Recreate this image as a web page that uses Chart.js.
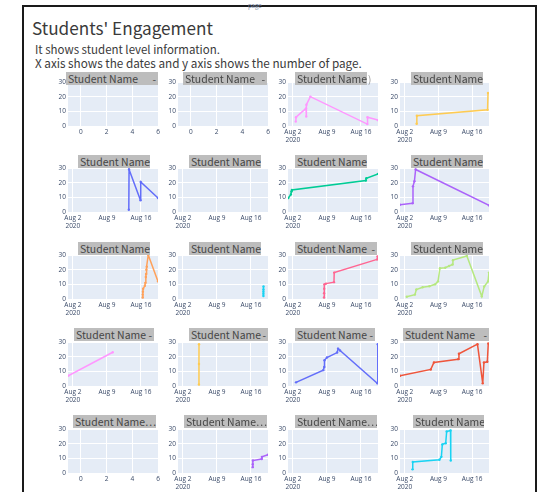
<!DOCTYPE html>
<html><head><meta charset="utf-8">
<script src="https://cdn.jsdelivr.net/npm/chart.js@4.4.0/dist/chart.umd.min.js"></script>
<style>
html,body{margin:0;padding:0;background:#fff;}
#page{position:relative;width:555px;height:492px;overflow:hidden;background:#fff;font-family:"Noto Sans CJK JP","Noto Sans",sans-serif;}
.frame{position:absolute;left:22px;top:5px;width:511px;height:540px;border:2px solid #1a1a1a;}
.t{position:absolute;white-space:nowrap;color:#3a3a3a;}
canvas{position:absolute;}
.bar{position:absolute;height:13px;background:#bdbdbd;color:#454545;font-size:11px;line-height:13px;display:flex;justify-content:space-between;padding:0 2px;box-sizing:border-box;white-space:nowrap;overflow:hidden;z-index:2;}
</style></head><body><div id="page">
<div class="frame"></div>
<div class="t" style="left:248px;top:1px;font-size:6px;color:#7d8ca8;">page</div>
<div class="t" id="ttl" style="left:32px;top:18px;font-size:17px;line-height:20px;"><span id="ttlspan">Students' Engagement</span></div>
<div class="t" id="sub1" style="left:35px;top:42px;font-size:11.8px;line-height:14px;"><span id="sub1span">It shows student level information.</span></div>
<div class="t" id="sub2" style="left:35px;top:56px;font-size:11.8px;line-height:14px;"><span id="sub2span">X axis shows the dates and y axis shows the number of page.</span></div>
</div>
<script>
// ---- tick labels ----
const dateTickDays = [2, 9, 16];            // day of August 2020
const dateTickLabels = [['Aug 2', '2020'], 'Aug 9', 'Aug 16'];
const numTickValues = [0, 2, 4, 6];
const pageTickValues = [0, 10, 20, 30];

// ---- panel titles (row by row) ----
const panelTitles = [
  'Student Name|-', 'Student Name|-', 'Student Name', 'Student Name',
  'Student Name', 'Student Name', 'Student Name', 'Student Name',
  'Student Name', 'Student Name', 'Student Name|-', 'Student Name',
  'Student Name|-', 'Student Name|-', 'Student Name|-', 'Student Name|-',
  'Student Name\u22EF', 'Student Name\u22EF', 'Student Name\u22EF', 'Student Name'
];
const panelColors = [
  '#636EFA', '#EF553B', '#FF97FF', '#FECB52',
  '#636EFA', '#EF553B', '#00CC96', '#AB63FA',
  '#FFA15A', '#19D3F3', '#FF6692', '#B6E880',
  '#FF97FF', '#FECB52', '#636EFA', '#EF553B',
  '#00CC96', '#AB63FA', '#FFA15A', '#19D3F3'
];

// ---- data: x = day of August 2020, y = number of pages ----
const days_1_3 = [2.6, 2.65, 4.7, 4.75, 4.8, 5.6, 17.3, 17.35, 19.5];
const pages_1_3 = [3, 6, 12, 6.5, 14.5, 20, 1.3, 6, 4];
const days_1_4 = [4.45, 4.5, 19.2, 19.3];
const pages_1_4 = [1.5, 7, 11, 22.5];
const days_2_1 = [13.5, 13.55, 15.9, 15.95, 19.5];
const pages_2_1 = [1.5, 29, 8, 20.5, 9.5];
const days_2_3 = [1.05, 1.6, 1.7, 1.8, 17.0, 17.1, 19.5];
const pages_2_3 = [9.5, 12, 14, 15, 21.5, 23, 26];
const days_2_4 = [1.0, 3.6, 3.7, 4.0, 4.25, 19.5];
const pages_2_4 = [5, 6, 17.5, 21, 29, 4.5];
const days_3_1 = [16.35, 16.37, 16.4, 16.45, 16.8, 16.9, 17.0, 17.05, 17.1, 17.2, 17.5, 19.5];
const pages_3_1 = [1, 3, 5, 7, 9, 11, 15, 17, 20, 22, 30, 12];
const days_3_2 = [18.55, 18.55, 18.56, 18.57, 18.58];
const pages_3_2 = [2, 3.5, 5, 6.5, 8.5];
const days_3_3 = [8.4, 8.42, 8.45, 8.5, 8.8, 10.45, 10.5, 19.3, 19.4];
const pages_3_3 = [1, 4, 7, 10, 10.5, 11.5, 18, 27, 29];
const days_3_4 = [2.4, 4.1, 4.4, 5.7, 7.1, 8.3, 8.9, 9.3, 10.4, 11.2, 11.9, 12.0, 14.9, 18.0, 18.5, 19.3, 19.5];
const pages_3_4 = [1.5, 3, 6.5, 8, 8.7, 10, 12, 21, 21.3, 22.5, 23.5, 26.5, 29.3, 1.8, 8.5, 12, 18];
const days_4_1 = [1.05, 10.2];
const pages_4_1 = [7, 23];
const days_4_2 = [5.3, 5.31, 5.32];
const pages_4_2 = [1, 15, 28.5];
const days_4_3 = [2.65, 8.25, 8.45, 8.5, 9.0, 11.1, 11.3, 11.7, 19.35, 19.45];
const pages_4_3 = [2.5, 10.8, 13, 17.6, 19.4, 22.8, 25.5, 24.2, 1.8, 28.5];
const days_4_4 = [1.0, 7.4, 8.05, 13.1, 13.25, 17.1, 18.2, 18.45, 19.15, 19.35];
const pages_4_4 = [7, 11.3, 16, 18.3, 22, 28.5, 1.8, 16, 16.5, 29];
const days_5_2 = [16.35, 16.37, 16.4, 18.2, 18.25, 19.5];
const pages_5_2 = [4, 6, 8.5, 9.5, 11, 12.5];
const days_5_4 = [3.6, 3.65, 9.2, 9.6, 9.8, 10.5, 10.7, 11.5, 11.55];
const pages_5_4 = [2.5, 7.5, 9, 11, 19.5, 20.3, 28.3, 29, 8.5];

// panels: [days, pages, dateAxis]
const panelData = [
  [null, null, false], [null, null, false], [days_1_3, pages_1_3, true], [days_1_4, pages_1_4, true],
  [days_2_1, pages_2_1, true], [null, null, true], [days_2_3, pages_2_3, true], [days_2_4, pages_2_4, true],
  [days_3_1, pages_3_1, true], [days_3_2, pages_3_2, true], [days_3_3, pages_3_3, true], [days_3_4, pages_3_4, true],
  [days_4_1, pages_4_1, true], [days_4_2, pages_4_2, true], [days_4_3, pages_4_3, true], [days_4_4, pages_4_4, true],
  [null, null, false], [days_5_2, pages_5_2, true], [null, null, true], [days_5_4, pages_5_4, true]
];

// ---- layout ----
const colLeft = [68, 178, 288, 400];
const colWidth = [90, 90, 90, 89];
const rowTop = [82, 168, 255, 342, 429];
const rowHeight = [44, 44, 44, 44, 44];
const barTop = [72, 155, 242, 328, 415];
const barSpans = [
  [[66,158],[183,267],[295,367],[411,483]],
  [[78,150],[189,261],[295,367],[411,483]],
  [[78,150],[189,261],[295,377],[411,483]],
  [[74,154],[189,268],[295,375],[403,489]],
  [[73,156],[184,267],[295,377],[413,484]]
];

const page = document.getElementById('page');

// fit header texts to measured widths
function fitWidth(span, holder, target) {
  const base = parseFloat(getComputedStyle(holder).fontSize);
  const w = span.getBoundingClientRect().width;
  holder.style.fontSize = (base * target / w).toFixed(2) + 'px';
}
fitWidth(document.getElementById('ttlspan'), document.getElementById('ttl'), 181);
fitWidth(document.getElementById('sub1span'), document.getElementById('sub1'), 185);
fitWidth(document.getElementById('sub2span'), document.getElementById('sub2'), 327);

const bgPlugin = {id:'bg', beforeDraw(chart){const {ctx, chartArea:a} = chart; ctx.save(); ctx.fillStyle = '#E5ECF6'; ctx.fillRect(a.left, a.top, a.width, a.height); ctx.restore();}};
const tickFont = {size: 6.5, family: '"Open Sans", "DejaVu Sans", sans-serif'};
const tickColor = '#3a4a68';

// measure bar font size so that "Student Name" is ~70px wide
const probe = document.createElement('span');
probe.style.cssText = 'position:absolute;visibility:hidden;white-space:nowrap;font-size:11px;';
probe.textContent = 'Student Name';
page.appendChild(probe);
const barFont = (11 * 70 / probe.getBoundingClientRect().width).toFixed(2) + 'px';
probe.remove();

panelData.forEach((pd, i) => {
  const r = Math.floor(i / 4), c = i % 4;
  const [days, pages, isDate] = pd;
  const PADL = 24, PADR = 8, PADT = 8, PADB = 18;
  const W = colWidth[c], H = rowHeight[r];
  const cw = W + PADL + PADR, ch = H + PADT + PADB;
  const cv = document.createElement('canvas');
  cv.width = cw; cv.height = ch;
  cv.style.left = (colLeft[c] - PADL) + 'px';
  cv.style.top = (rowTop[r] - PADT) + 'px';
  cv.style.width = cw + 'px'; cv.style.height = ch + 'px';
  page.appendChild(cv);
  const datasets = days ? [{
    data: days.map((d, k) => ({x: d, y: pages[k]})),
    borderColor: panelColors[i], backgroundColor: panelColors[i],
    borderWidth: 1.5, pointRadius: 1.2, pointBorderWidth: 0, tension: 0, fill: false
  }] : [];
  const xTicks = isDate ? dateTickDays : numTickValues;
  new Chart(cv, {
    type: 'line',
    data: {datasets},
    options: {
      responsive: false, animation: false, devicePixelRatio: 1,
      layout: {padding: {left: 0, right: PADR, top: PADT, bottom: 0}},
      plugins: {legend: {display: false}, tooltip: {enabled: false}, title: {display: false}},
      scales: {
        x: {
          type: 'linear', min: isDate ? 1 : -1, max: isDate ? 19.5 : 6,
          afterFit: s => { s.height = PADB; },
          afterBuildTicks: s => { s.ticks = xTicks.map(v => ({value: v})); },
          ticks: {
            callback: (v, k) => isDate ? dateTickLabels[k] : String(numTickValues[k]),
            font: tickFont, color: tickColor, padding: 2, maxRotation: 0, autoSkip: false
          },
          grid: {color: '#ffffff', lineWidth: 1, drawTicks: false},
          border: {display: false}
        },
        y: {
          min: 0, max: 30,
          afterFit: s => { s.width = PADL; },
          afterBuildTicks: s => { s.ticks = pageTickValues.map(v => ({value: v})); },
          ticks: {font: tickFont, color: tickColor, padding: 2, callback: (v, k) => String(pageTickValues[k])},
          grid: {color: '#ffffff', lineWidth: 1, drawTicks: false},
          border: {display: false}
        }
      }
    },
    plugins: [bgPlugin]
  });
  // title bar
  const [bl, br] = barSpans[r][c];
  const bar = document.createElement('div');
  bar.className = 'bar';
  bar.style.fontSize = barFont;
  bar.style.left = bl + 'px'; bar.style.top = barTop[r] + 'px'; bar.style.width = (br - bl) + 'px';
  const parts = panelTitles[i].split('|');
  parts.forEach(p => { const s = document.createElement('span'); s.textContent = p; bar.appendChild(s); });
  page.appendChild(bar);
  if (i === 2) {
    const ex = document.createElement('div');
    ex.className = 't';
    ex.style.cssText = 'left:' + (br + 1) + 'px;top:' + barTop[r] + 'px;font-size:10px;line-height:13px;color:#9a9a9a;z-index:2';
    ex.textContent = ')';
    page.appendChild(ex);
  }
});
</script>
</body></html>
